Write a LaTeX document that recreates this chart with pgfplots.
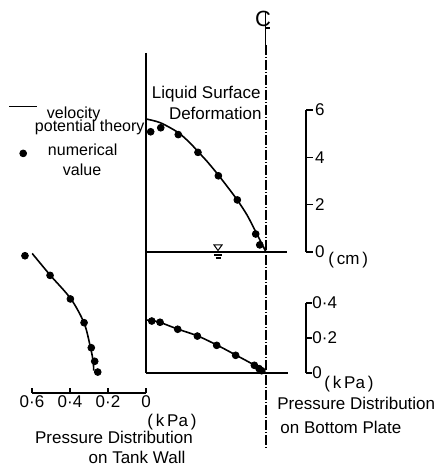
\documentclass[border=0pt]{standalone}
\usepackage{fontspec}
\setmainfont{Liberation Sans}
\usepackage{pgfplots}
\pgfplotsset{compat=1.18}

\newcommand{\lbl}{\fontsize{8.5}{10}\selectfont}

\pgfplotsset{
  panel/.style={scale only axis, clip=false, anchor=south west,
    axis line style={line width=0.8pt},
    major tick style={line width=0.8pt, black},
    tick label style={font=\lbl},
    /pgf/number format/assume math mode=true},
  noarrows/.style={
    every outer x axis line/.append style={-},
    every outer y axis line/.append style={-},
    every inner x axis line/.append style={-},
    every inner y axis line/.append style={-},
    x axis line style={-}, y axis line style={-}},
  theory/.style={black, line width=0.8pt, smooth, no markers},
  num/.style={black, only marks, mark=*, mark size=1.7pt},
  lineimg/.style={legend image code/.code={\draw[##1] (0pt,0pt) -- (14pt,0pt);}},
  dotimg/.style={legend image code/.code={\draw[##1] plot coordinates {(7pt,0pt)};}},
  noimg/.style={legend image code/.code={}},
}

\begin{document}
\begin{tikzpicture}[font=\lbl]
\path[use as bounding box] (0,0) rectangle (217.5pt,232pt);

% liquid surface deformation (cm)
\begin{axis}[panel, at={(73pt,106pt)}, width=80pt, height=71pt,
    xmin=0, xmax=1.3333, ymin=0, ymax=6,
    axis x line=none, axis y line=right, tick align=outside,
    major tick length=3.3pt, ytick={0,2,4,6},
    yticklabel style={inner sep=1pt},
    legend style={at={(-0.8625,1.0845)}, anchor=north west, draw=none,
      fill=none, inner sep=0pt, font=\fontsize{8}{9.5}\selectfont,
      row sep=-1pt, column sep=-1.5pt,
      nodes={inner sep=0pt}},
    noarrows,
]
\addplot[theory, lineimg]
  coordinates {(0,5.62) (0.12,5.46) (0.27,5.04) (0.37,4.59) (0.43,4.26)
  (0.51,3.82) (0.60,3.27) (0.69,2.68) (0.76,2.20) (0.84,1.58) (0.91,0.90) (1.0,0)};
\addlegendentry[anchor=west, text height=8pt, text depth=0pt]{\hspace*{6pt}\raisebox{-2pt}{velocity}}
\addlegendimage{noimg}
\addlegendentry[anchor=west, text height=8pt, text depth=9.5pt]{\raisebox{-1.5pt}{potential theory}}
\addplot[num, dotimg]
  coordinates {(0.039,5.08) (0.123,5.25) (0.269,4.96) (0.433,4.21)
  (0.603,3.22) (0.761,2.20) (0.914,0.76) (0.948,0.30)};
\addlegendentry[anchor=west, text height=4pt, text depth=4pt]{\hspace*{6.5pt}\raisebox{-1pt}{numerical}}
\addlegendimage{noimg}
\addlegendentry[anchor=west, text height=5.5pt, text depth=2pt]{\hspace*{14pt}\raisebox{-2.5pt}{value}}
\end{axis}

% pressure on bottom plate (kPa)
\begin{axis}[panel, at={(73pt,45.5pt)}, width=80pt, height=35pt,
    xmin=0, xmax=1.3333, ymin=0, ymax=0.4,
    axis x line=none, axis y line=right, tick align=outside,
    major tick length=3pt, ytick={0,0.2,0.4}, yticklabels={0,0·2,0·4},
    yticklabel style={inner sep=0pt},
    noarrows,
]
\addplot[theory] coordinates {(0,0.303) (0.1,0.293) (0.26,0.252) (0.43,0.212)
  (0.59,0.160) (0.75,0.102) (0.9,0.046) (1.0,0)};
\addplot[num] coordinates {(0.048,0.297) (0.117,0.290) (0.264,0.250)
  (0.428,0.211) (0.589,0.158) (0.747,0.101) (0.903,0.044) (0.942,0.025) (0.964,0.013)};
\end{axis}

% pressure on tank wall (kPa)
\begin{axis}[panel, at={(16pt,35.5pt)}, width=57pt, height=70.5pt,
    x dir=reverse, xmin=0, xmax=0.6, ymin=-0.165, ymax=1,
    axis x line=bottom, axis y line=none, tick align=inside,
    major tick length=2.5pt, xtick={0,0.2,0.4,0.6}, xticklabels={0,0·2,0·4,0·6},
    xticklabel style={inner sep=1pt},
    noarrows,
]
\addplot[theory] coordinates {(0.599,0.988) (0.505,0.810) (0.395,0.612)
  (0.326,0.414) (0.295,0.231) (0.279,0.107) (0.275,0.020)};
\addplot[num] coordinates {(0.637,0.969) (0.505,0.807) (0.398,0.612)
  (0.326,0.416) (0.288,0.209) (0.270,0.097) (0.254,0.008)};
\end{axis}

% tank outline, centre line and labels (pixel grid of the figure)
\begin{scope}[x=0.5pt, y=-0.5pt, yshift=232pt]
\draw[line width=0.8pt] (146,53) -- (146,373);
\draw[line width=0.7pt] (146,252) -- (287,252);
\draw[line width=0.7pt] (146,373) -- (288,373);
\draw[line width=0.6pt, dash pattern=on 5pt off 1pt on 0.5pt off 1pt] (266,45) -- (266,450);
\draw[line width=0.6pt] (265.5,12) -- (265.5,45);
\draw[line width=0.6pt] (265.5,28) -- (270,28);
\node[font=\fontsize{11}{11}\selectfont, inner sep=0pt] at (263,19) {C};
\draw[line width=0.5pt] (214,245) -- (222,245) -- (218,250.5) -- cycle;
\draw[line width=0.6pt] (214,255) -- (222,255);
\draw[line width=0.6pt] (215.5,258) -- (220.5,258);
\node[anchor=base east, inner sep=0pt] at (261,99) {Liquid Surface};
\node[anchor=base east, inner sep=0pt] at (262,120) {Deformation};
\node[anchor=base west, inner sep=0pt] at (328,265) {(\,cm\,)};
\node[anchor=base west, inner sep=0pt] at (324,389) {(\,k\,Pa\,)};
\node[anchor=base west, inner sep=0pt] at (147,427) {(\,k\,Pa\,)};
\node[anchor=base, inner sep=0pt] at (114,444) {Pressure Distribution};
\node[anchor=base, inner sep=0pt] at (137,463) {on Tank Wall};
\node[anchor=base west, inner sep=0pt] at (277,410) {Pressure Distribution};
\node[anchor=base west, inner sep=0pt] at (280,434) {on Bottom Plate};
\end{scope}
\end{tikzpicture}
\end{document}
